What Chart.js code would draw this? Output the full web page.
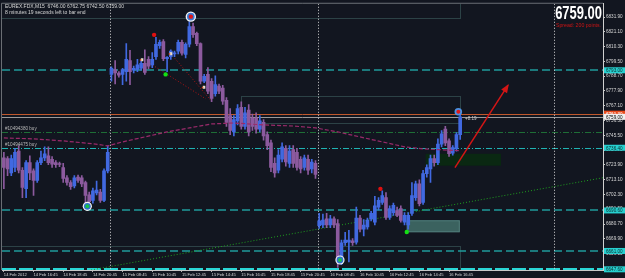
<!DOCTYPE html>
<html><head><meta charset="utf-8">
<script src="https://cdn.jsdelivr.net/npm/chart.js@4.4.1/dist/chart.umd.min.js"></script>
<style>html,body{margin:0;padding:0;background:#121620;overflow:hidden}</style>
</head><body>
<canvas id="c" width="625" height="278"></canvas>
<script>
// ---------- DATA ----------
const symbolTitle = 'EUREX.FDX,M15  6746.00 6762.75 6742.50 6759.00';
const timerText = '8 minutes 19 seconds left to bar end';
const bigPrice = '6759.00';
const spreadText = 'Spread: 200 points.';
const profitText = '+8.19';
const orderLabels = ['#10494380 buy', '#10494475 buy'];

const xTickLabels = ['14 Feb 2012','14 Feb 16:45','14 Feb 18:45','14 Feb 20:45','15 Feb 08:45','15 Feb 10:45',
  '15 Feb 12:45','15 Feb 14:45','15 Feb 16:45','15 Feb 18:45','15 Feb 20:45','16 Feb 08:45','16 Feb 10:45',
  '16 Feb 12:45','16 Feb 14:45','16 Feb 16:45'];
const barsPerLabel = 8;
const slotCount = 162;          // bars + empty future space
const yTickValues = [6831.90,6821.10,6810.30,6799.50,6788.70,6777.90,6767.10,6756.30,6745.50,6734.70,
  6723.90,6713.10,6702.30,6691.50,6680.70,6669.90,6659.10];
const yMin = 6647.1, yMax = 6841.6;

const opens = [6729,6728.5,6718,6722,6734,6720,6706.5,6725.5,6719.5,6712.5,6725.5,6729,6730.5,6728,6725.5,6724.5,
  6722,6714.5,6711,6708.5,6715,6714.5,6711,6702,6698,6703.5,6704,6698,6719.5,
  6790,6793.5,6791,6790,6792,6800,6793,6793.7,6794.5,6798,6801,6797,6803,6811,6814,6801.5,6803,6805,6807,6813.5,
  6804.5,6812,6825,6820,6812.5,6785,6790,6785,6776,6781.5,6780,
  6771,6760,6748,6756,6766,6752,6764,6758,6758,6750,6755,6746,6740,6725,6720,6728,6736,6725,6735,6733,6728,6722,6728,6721,6725,
  6679.5,6680,6684.5,6680,6684.5,6681,6655,6667,6667.5,6668.5,6667.5,6685,6677,6678.5,6684.5,6682,6693,6696.5,6700,
  6685.5,6689,6690.5,6692,6682,6680,6688.5,6700,6710,6696.5,6717.5,6721,6728.5,6725.5,6739,6750,6741.5,6732.5,6735.7,6746];
const highs = [6733,6730,6731,6736,6738,6722,6727,6730.5,6721,6727,6734,6737,6737,6730,6727,6726,
  6725,6716,6712.5,6716,6716.5,6716,6712,6704,6707,6712,6706,6721,6737.8,
  6795.5,6800,6792,6794.5,6812.5,6807.5,6796,6801,6800,6808,6803,6806,6817,6815,6815.5,6803,6808,6807,6815,6815,
  6813,6828.5,6827.5,6821,6813,6790,6795,6787,6789,6783,6782,
  6773,6765,6760,6768,6770,6766,6768,6761,6762,6760,6757,6748,6742,6729,6735,6740,6738,6738,6738,6736,6730,6731,6731,6728,6727,
  6688.5,6688,6688.5,6687,6686,6684,6669,6674.7,6676,6670,6693,6687,6684,6685,6690,6701,6700,6705,6703.7,
  6694,6696,6693,6694,6689,6689,6711,6712,6713,6720,6724,6731,6731,6743,6749,6752,6743,6738,6747.5,6762.75];
const lows = [6706.5,6716,6716,6719,6718,6700,6700,6713,6701.5,6711,6724,6727,6724,6722,6722,6722.5,
  6711,6709,6706,6707,6711,6708,6696,6696,6696,6702,6696.5,6697,6718,
  6785,6783,6788,6782.5,6785,6782.5,6791,6792,6793,6790,6794,6795,6801,6809,6800,6792,6801,6803,6805,6804,
  6802,6810,6817,6811,6783,6784,6776,6770,6774,6776,6768,
  6752,6746,6745,6753,6750,6750,6745,6749,6747,6748,6742,6735,6719,6715,6718,6726,6723,6722,6722,6720,6718,6720,6717,6718,6714,
  6677.5,6678,6678,6678,6678,6649,6651,6665,6653,6665,6666,6675,6672,6677,6683,6680,6691,6695,6684,
  6684,6687,6686,6682,6680,6677,6687,6698,6694,6695,6715,6711,6723,6724,6737,6738,6730,6731,6734,6742.5];
const closes = [6722,6721,6728.5,6733,6720,6707.5,6725.5,6718,6712.5,6725.5,6729,6732,6725.5,6724.5,6724,6724.2,
  6714,6711,6708,6714.5,6712.5,6710,6701.5,6697,6705,6705.5,6698,6719.5,6733,
  6794.5,6791,6789.5,6793.5,6801,6792,6794.5,6797,6798,6791.5,6796,6801,6812,6813.5,6801.5,6802.5,6807,6805.5,6813.5,6805.5,
  6812,6825,6819,6812.5,6785,6788.5,6777.7,6772.5,6782.5,6777.7,6770.5,
  6755,6749,6757,6765,6752,6762,6748,6752,6750,6756,6745,6738,6722,6718,6731,6737,6726,6734,6725,6722,6721,6729,6720,6726,6717,
  6683,6683.5,6680,6684.5,6680,6654.4,6667,6669,6669,6667,6685,6677,6680,6683.5,6688.5,6694,6698,6701.5,6685.5,
  6692,6694.3,6687,6683.4,6687,6687,6701.5,6710,6695.5,6717.5,6722,6728.5,6725.5,6739,6746.5,6740,6732,6736.5,6746,6759];

// moving average read at a few bars: [bar index, value]
const maPoints = [[0,6743.6],[8,6742.9],[16,6741.4],[24,6739.3],[28,6737.8],[32,6740.7],[38,6744.3],[44,6748],
  [50,6750.9],[56,6753.8],[62,6754.5],[70,6753.1],[78,6752.3],[84,6750.9],[90,6748],[96,6744.3],[102,6740.7],
  [108,6737.1],[113,6735.6],[123,6734.2]];

// horizontal levels
const levelValues = [6793.0, 6761.3, 6759.0, 6748.0, 6736.4, 6690.6, 6661.0, 6647.6];
// rectangles: [barFrom, valueTop, barTo, valueBottom]
const rectOutlines = [[-1, 6842, 122.9, 6830.7],[64, 6774.1, 122.9, 6754.5],[-1, 6664.5, 122.9, 6646]];
const rectTeal = [108.6, 6683.4, 122.9, 6674.7];
const rectGreen = [113.7, 6732.0, 134.0, 6723.3];
const separatorBars = [29, 85, 148.6];
const trendPoints = [[23.5, 6647.1],[161.5, 6714.5]];
const zigzagLines = [[[39.4, 6798.0],[54.5, 6772.0]], [[46.1, 6801.7],[55.8, 6771.0]]];
const arrowPoints = [[121.6, 6721.9],[135.9, 6782.1]];
const ringMarkers = [[50.4, 6832.2],[122.5, 6762.7],[22.5, 6693.6],[90.6, 6654.4]];
const redDots = [[40.5, 6818.9],[101.5, 6706.4]];
const greenDots = [[43.6, 6790.0],[108.6, 6674.9]];
const smallMarks = [[37.2, 6800.7],[45.0, 6805.1],[53.9, 6780.6]];
const profitPos = [124.3, 6756.7];

// ---------- STYLE ----------
const BG = '#121620', BULL = '#4169e1', BEAR = '#8c5a9e';
const FONT = "'Liberation Sans', Arial, sans-serif";

const categories = Array.from({length: slotCount}, (_, i) => String(i));
const bodies = opens.map((o, i) => [o, closes[i]]);
const wicks = lows.map((l, i) => [l, highs[i]]);
const barColors = opens.map((o, i) => closes[i] >= o ? BULL : BEAR);
const maData = new Array(opens.length).fill(null);
maPoints.forEach(([i, v]) => { maData[i] = v; });

const levelStyles = [
  {c:'#1f9a9a', d:[8,4], w:1.5},
  {c:'#c0582c', d:[], w:1},
  {c:'#9a9a9a', d:[], w:1},
  {c:'#1e6e36', d:[6,2,1,2], w:1},
  {c:'#1fb3b3', d:[6,2,1,2], w:1},
  {c:'#1f9a9a', d:[8,4], w:1.5},
  {c:'#1f9a9a', d:[8,4], w:1.5},
  {c:'#2ad6d6', d:[14,3], w:2}
];
const levelBoxes = [
  {i:0, bg:'#27d0d0', fg:'#0a2a2a'},
  {i:1, bg:'#e84a1c', fg:'#ffffff'},
  {i:2, bg:'#f0f0f0', fg:'#000000'},
  {i:4, bg:'#27d0d0', fg:'#0a2a2a'},
  {i:5, bg:'#27d0d0', fg:'#0a2a2a'},
  {i:6, bg:'#27d0d0', fg:'#0a2a2a'},
  {i:7, bg:'#27d0d0', fg:'#0a2a2a'}
];

const overlay = {
  id: 'overlay',
  beforeDraw(chart) {
    const {ctx, width, height} = chart;
    ctx.save(); ctx.fillStyle = BG; ctx.fillRect(0, 0, width, height); ctx.restore();
  },
  beforeDatasetsDraw(chart) {
    const {ctx, chartArea: a} = chart;
    const xs = chart.scales.x, ys = chart.scales.y;
    const X = i => xs.getPixelForValue(i), Y = v => ys.getPixelForValue(v);
    ctx.save();
    ctx.beginPath(); ctx.rect(a.left, a.top, a.right - a.left, a.bottom - a.top); ctx.clip();
    ctx.fillStyle = '#0a2812';
    ctx.fillRect(X(rectGreen[0]), Y(rectGreen[1]), X(rectGreen[2]) - X(rectGreen[0]), Y(rectGreen[3]) - Y(rectGreen[1]));
    ctx.fillStyle = '#3b625f'; ctx.strokeStyle = '#4f7c79'; ctx.lineWidth = 1;
    ctx.fillRect(X(rectTeal[0]), Y(rectTeal[1]), X(rectTeal[2]) - X(rectTeal[0]), Y(rectTeal[3]) - Y(rectTeal[1]));
    ctx.strokeRect(X(rectTeal[0]) + .5, Y(rectTeal[1]) + .5, X(rectTeal[2]) - X(rectTeal[0]) - 1, Y(rectTeal[3]) - Y(rectTeal[1]) - 1);
    ctx.strokeStyle = '#2c4246'; ctx.lineWidth = 1;
    rectOutlines.forEach(r => {
      ctx.strokeRect(Math.round(X(r[0])) + .5, Math.round(Y(r[1])) + .5, Math.round(X(r[2]) - X(r[0])), Math.round(Y(r[3]) - Y(r[1])));
    });
    levelValues.forEach((v, k) => {
      const s = levelStyles[k];
      ctx.strokeStyle = s.c; ctx.lineWidth = s.w; ctx.setLineDash(s.d);
      const y = Math.round(Y(v)) + (s.w === 1 ? .5 : 0);
      ctx.beginPath(); ctx.moveTo(a.left, y); ctx.lineTo(a.right, y); ctx.stroke();
    });
    ctx.strokeStyle = '#d8d8d8'; ctx.lineWidth = 1; ctx.setLineDash([1, 2]);
    separatorBars.forEach(b => {
      const x = Math.round(X(b)) - .5;
      ctx.beginPath(); ctx.moveTo(x, a.top); ctx.lineTo(x, a.bottom); ctx.stroke();
    });
    ctx.strokeStyle = '#1fa01f'; ctx.setLineDash([1, 2]); ctx.lineWidth = 1;
    ctx.beginPath(); ctx.moveTo(X(trendPoints[0][0]), Y(trendPoints[0][1])); ctx.lineTo(X(trendPoints[1][0]), Y(trendPoints[1][1])); ctx.stroke();
    ctx.strokeStyle = '#b01414'; ctx.setLineDash([1, 2]);
    zigzagLines.forEach(l => {
      ctx.beginPath(); ctx.moveTo(X(l[0][0]), Y(l[0][1])); ctx.lineTo(X(l[1][0]), Y(l[1][1])); ctx.stroke();
    });
    ctx.restore();
  },
  afterDraw(chart) {
    const {ctx, chartArea: a} = chart;
    const xs = chart.scales.x, ys = chart.scales.y;
    const X = i => xs.getPixelForValue(i), Y = v => ys.getPixelForValue(v);
    ctx.save();
    ctx.strokeStyle = '#6a6e74'; ctx.lineWidth = 1;
    ctx.beginPath(); ctx.moveTo(a.left - .5, a.bottom); ctx.lineTo(a.left - .5, a.top - .5); ctx.lineTo(a.right, a.top - .5); ctx.stroke();
    const [p0, p1] = arrowPoints;
    const x0 = X(p0[0]), y0 = Y(p0[1]), x1 = X(p1[0]), y1 = Y(p1[1]);
    ctx.strokeStyle = '#d41515'; ctx.fillStyle = '#d41515'; ctx.lineWidth = 1.5;
    ctx.beginPath(); ctx.moveTo(x0, y0); ctx.lineTo(x1, y1); ctx.stroke();
    const ang = Math.atan2(y1 - y0, x1 - x0), L = 8;
    ctx.beginPath(); ctx.moveTo(x1 + 1.5 * Math.cos(ang), y1 + 1.5 * Math.sin(ang));
    ctx.lineTo(x1 - L * Math.cos(ang - 0.45), y1 - L * Math.sin(ang - 0.45));
    ctx.lineTo(x1 - L * Math.cos(ang + 0.45), y1 - L * Math.sin(ang + 0.45));
    ctx.closePath(); ctx.fill();
    ringMarkers.forEach(([i, v], k) => {
      const x = X(i), y = Y(v);
      if (k === 0) {
        ctx.fillStyle = '#f4f4f4'; ctx.beginPath(); ctx.arc(x, y, 5.2, 0, 7); ctx.fill();
        ctx.fillStyle = '#3a7bd5'; ctx.beginPath(); ctx.arc(x, y, 3.8, 0, 7); ctx.fill();
        ctx.fillStyle = '#e01818'; ctx.beginPath(); ctx.arc(x, y, 2.2, 0, 7); ctx.fill();
      } else if (k === 1) {
        ctx.fillStyle = '#4a90e2'; ctx.beginPath(); ctx.arc(x, y, 3.8, 0, 7); ctx.fill();
        ctx.fillStyle = '#e01818'; ctx.beginPath(); ctx.arc(x, y, 2, 0, 7); ctx.fill();
      } else {
        ctx.fillStyle = '#f4f4f4'; ctx.beginPath(); ctx.arc(x, y, 4.6, 0, 7); ctx.fill();
        ctx.fillStyle = '#2f6fd0'; ctx.beginPath(); ctx.arc(x, y, 3.4, 0, 7); ctx.fill();
        ctx.fillStyle = '#19c24a'; ctx.beginPath(); ctx.arc(x, y, 2, 0, 7); ctx.fill();
      }
    });
    ctx.fillStyle = '#e01010';
    redDots.forEach(([i, v]) => { ctx.beginPath(); ctx.arc(X(i), Y(v), 2.2, 0, 7); ctx.fill(); });
    ctx.fillStyle = '#14e014';
    greenDots.forEach(([i, v]) => { ctx.beginPath(); ctx.arc(X(i), Y(v), 2.2, 0, 7); ctx.fill(); });
    smallMarks.forEach(([i, v]) => {
      ctx.fillStyle = '#e8e0d0'; ctx.fillRect(X(i) - 1, Y(v) - 1.5, 2.5, 3);
      ctx.fillStyle = '#e05020'; ctx.fillRect(X(i) - 2, Y(v) - .5, 1.5, 1.5);
    });
    ctx.textBaseline = 'alphabetic'; ctx.textAlign = 'left';
    ctx.fillStyle = '#d8d8d8'; ctx.font = `5px ${FONT}`;
    ctx.fillText(symbolTitle, a.left + 3, 8);
    ctx.fillText(timerText, a.left + 3, 14);
    ctx.fillStyle = '#b8b8b8'; ctx.font = `4.6px ${FONT}`;
    ctx.fillText(orderLabels[0], a.left + 3, Y(levelValues[3]) - 1.5);
    ctx.fillText(orderLabels[1], a.left + 3, Y(levelValues[4]) - 1.5);
    ctx.fillStyle = '#d0d0d0';
    ctx.fillText(profitText, X(profitPos[0]), Y(profitPos[1]));
    ctx.save();
    ctx.translate(a.right - 1, 18.5); ctx.scale(0.72, 1);
    ctx.textAlign = 'right'; ctx.fillStyle = '#ffffff'; ctx.font = `bold 18px ${FONT}`;
    ctx.fillText(bigPrice, 0, 0);
    ctx.restore();
    ctx.textAlign = 'right'; ctx.fillStyle = '#d01414'; ctx.font = `5.2px ${FONT}`;
    ctx.fillText(spreadText, a.right - 2, 27);
    ctx.textAlign = 'left'; ctx.font = `4.6px ${FONT}`;
    levelBoxes.forEach(b => {
      const y = Y(levelValues[b.i]);
      ctx.fillStyle = b.bg; ctx.fillRect(a.right + 1, y - 3, 21, 6);
      ctx.fillStyle = b.fg; ctx.fillText(levelValues[b.i].toFixed(2), a.right + 3, y + 2);
    });
    ctx.restore();
  }
};

new Chart(document.getElementById('c'), {
  data: {
    labels: categories,
    datasets: [
      {type: 'line', data: maData, borderColor: '#9a2a6a', borderWidth: 1.2, borderDash: [4, 2], pointRadius: 0, spanGaps: true, order: 0},
      {type: 'bar', data: bodies, backgroundColor: barColors, barThickness: 3, grouped: false, minBarLength: 1, borderWidth: 0, order: 1},
      {type: 'bar', data: wicks, backgroundColor: barColors, barThickness: 1, grouped: false, borderWidth: 0, order: 2}
    ]
  },
  options: {
    responsive: false, animation: false, devicePixelRatio: 1,
    layout: {padding: {top: 2, left: 2, right: 0, bottom: 0}},
    plugins: {legend: {display: false}, tooltip: {enabled: false}},
    scales: {
      x: {
        type: 'category', offset: true,
        grid: {display: true, drawOnChartArea: false, offset: false, tickLength: 2, color: '#b0b0b0'},
        border: {display: true, color: '#c8c8c8'},
        ticks: {autoSkip: false, maxRotation: 0, minRotation: 0, align: 'start', padding: 0,
          font: {size: 4.1, family: FONT}, color: '#d8d8d8',
          callback: v => xTickLabels[v / barsPerLabel]},
        afterBuildTicks: s => { s.ticks = xTickLabels.map((_, i) => ({value: i * barsPerLabel})); },
        afterFit: s => { s.height = 8; }
      },
      y: {
        position: 'right', min: yMin, max: yMax,
        grid: {display: true, drawOnChartArea: false, tickLength: 2, color: '#c8c8c8'},
        border: {display: true, color: '#d0d0d0'},
        ticks: {autoSkip: false, padding: 1, font: {size: 4.6, family: FONT}, color: '#d8d8d8',
          callback: v => Number(v).toFixed(2)},
        afterBuildTicks: s => { s.ticks = yTickValues.map(v => ({value: v})); },
        afterFit: s => { s.width = 22; }
      }
    }
  },
  plugins: [overlay]
});
</script>
</body></html>
